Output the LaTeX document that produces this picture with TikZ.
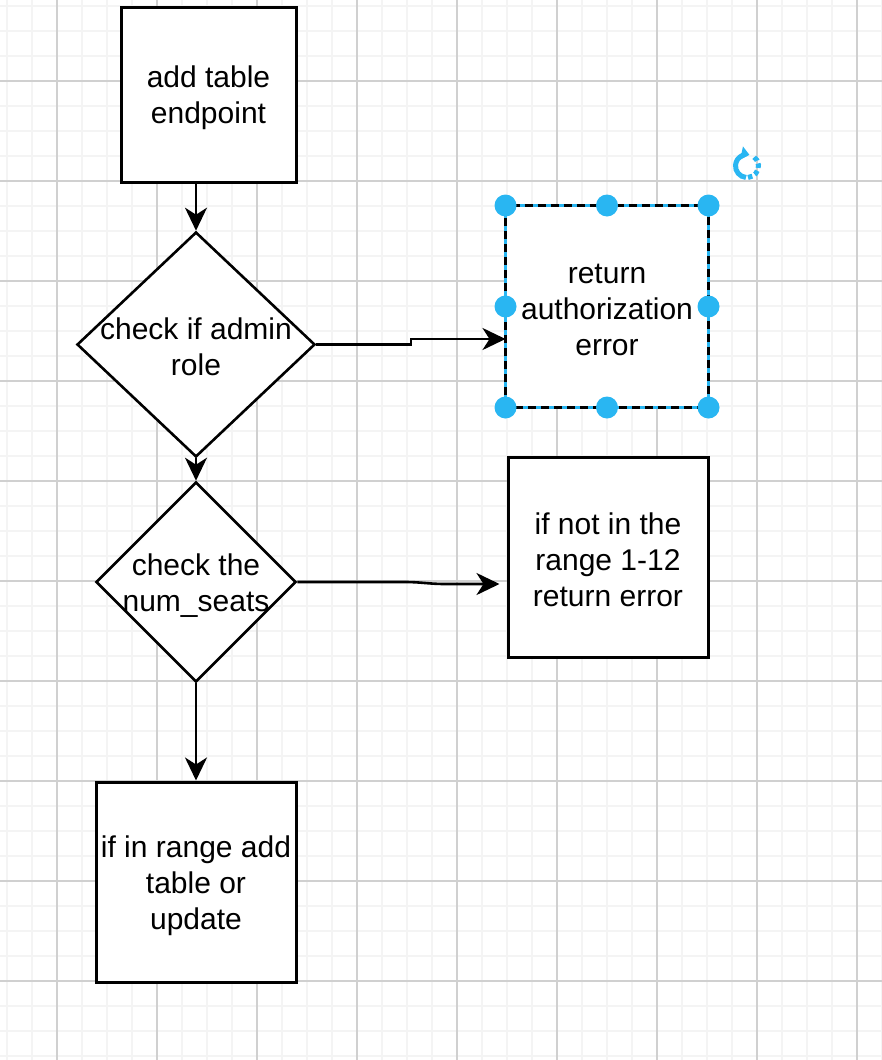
\documentclass[tikz,border=0pt]{standalone}
\usepackage{fontspec}
\setmainfont{Liberation Sans}
\usetikzlibrary{shapes.geometric,arrows.meta}
\definecolor{gmaj}{HTML}{D0D0D0}
\definecolor{gmin}{HTML}{F4F4F4}
\definecolor{sel}{HTML}{29B6F2}
\begin{document}
\begin{tikzpicture}[x=1pt,y=-1pt,
  txt/.style={font=\fontsize{30}{36}\selectfont, align=center, inner sep=0pt},
  box/.style={draw, line width=3pt, fill=white},
  dia/.style={draw, shape=diamond, line width=2.6pt, fill=white, inner sep=0pt},
  arr/.style={line width=2.6pt, -{Stealth[length=23pt,width=22pt,inset=7pt]}}
]
\useasboundingbox (0,0) rectangle (882,1060);
\fill[white] (0,0) rectangle (882,1060);
% grid
\foreach \x in {7,32,...,882} \draw[gmin, line width=2pt] (\x,0) -- (\x,1060);
\foreach \y in {6,31,...,1060} \draw[gmin, line width=2pt] (0,\y) -- (882,\y);
\foreach \x in {57,157,...,857} \draw[gmaj, line width=1.1pt] (\x,0) -- (\x,1060);
\foreach \y in {81,181,...,981} \draw[gmaj, line width=1.1pt] (0,\y) -- (882,\y);

% shapes
\node[box, minimum width=175pt, minimum height=175pt] (b1) at (208.5,94.5) {};
\node[dia, minimum width=238pt, minimum height=225pt] (d1) at (196,344.5) {};
\node[box, draw=none, minimum width=200pt, minimum height=199pt] (b2) at (607,306.5) {};
\node[dia, minimum width=200pt, minimum height=200pt] (d2) at (196,582) {};
\node[box, minimum width=200pt, minimum height=200pt] (b3) at (608,557) {};
\node[box, minimum width=200pt, minimum height=200pt] (b4) at (196,882) {};
% texts
\node[txt] (t0) at ([yshift=-3pt]b1.center) {add table\\endpoint};
\node[txt] (t1) at ([yshift=-2pt]d1.center) {check if admin\\role};
\node[txt] (t2) at ([yshift=-4pt]d2.center) {check the\\num\_seats};
\node[txt] (t3) at ([yshift=-3pt]b2.center) {return\\authorization\\error};
\node[txt] (t4) at ([yshift=-3pt]b3.center) {if not in the\\range 1-12\\return error};
\node[txt] (t5) at ([yshift=-4pt]b4.center) {if in range add\\table or\\update};

% selection of b2
\draw[sel, line width=2.4pt] (b2.south west) rectangle (b2.north east);
\draw[black, line width=2.4pt, dash pattern=on 8pt off 5pt] (b2.south west) rectangle (b2.north east);
\foreach \a in {north west,north,north east,west,east,south west,south,south east}
  \fill[sel] (b2.\a) circle (11pt);
% rotate handle
\draw[sel, line width=5pt, -{Triangle[length=8pt,width=13pt]}] (747,166) ++(95:11.5) arc[start angle=95, end angle=282, radius=11.5];
\draw[sel, line width=5pt, dash pattern=on 4.5pt off 3pt] (747,166) ++(85:11.5) arc[start angle=85, end angle=-55, radius=11.5];

% edges
\draw[arr] (d1.north |- b1.south) -- (d1.north);
\draw[arr] (d1.east) -- (411,344.5) -- (411,339) -- ([yshift=-32.5pt]b2.west);
\draw[arr] (d1.south) -- (d2.north);
\draw[arr] (d2.east) -- (405,582) to[out=0,in=180] (445,584) -- ([xshift=-7pt,yshift=-27pt]b3.west);
\draw[arr] (d2.south) -- (b4.north);
\end{tikzpicture}
\end{document}
